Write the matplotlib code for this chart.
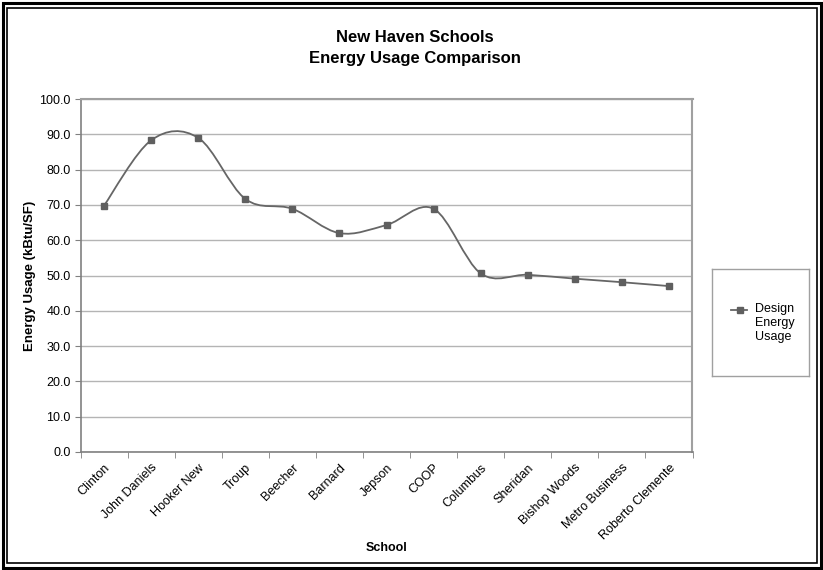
import matplotlib.pyplot as plt
from matplotlib.path import Path
from matplotlib.patches import PathPatch, Rectangle

plt.rcParams['font.family'] = ['Liberation Sans', 'DejaVu Sans']

# School names and design energy usage (kBtu/SF)
schools = ["Clinton", "John Daniels", "Hooker New", "Troup", "Beecher", "Barnard",
           "Jepson", "COOP", "Columbus", "Sheridan", "Bishop Woods",
           "Metro Business", "Roberto Clemente"]
usage = [69.8, 88.3, 89.0, 71.7, 68.9, 62.0, 64.3, 68.9, 50.6, 50.2, 49.1, 48.1, 47.0]
y_ticks = [0, 10, 20, 30, 40, 50, 60, 70, 80, 90, 100]

line_col = '#666666'
grid_col = '#b4b4b4'

fig = plt.figure(figsize=(8.23, 5.70), dpi=100)
ax = fig.add_axes([80.5 / 823, 1 - 452 / 570, 612 / 823, 353 / 570])

x = list(range(len(usage)))

# Excel-style smoothed line: Catmull-Rom segments drawn as cubic Beziers
verts = [(x[0], usage[0])]
codes = [Path.MOVETO]
n = len(usage)
for i in range(n - 1):
    p0 = (x[max(i - 1, 0)], usage[max(i - 1, 0)])
    p1 = (x[i], usage[i])
    p2 = (x[i + 1], usage[i + 1])
    p3 = (x[min(i + 2, n - 1)], usage[min(i + 2, n - 1)])
    c1 = (p1[0] + (p2[0] - p0[0]) / 6, p1[1] + (p2[1] - p0[1]) / 6)
    c2 = (p2[0] - (p3[0] - p1[0]) / 6, p2[1] - (p3[1] - p1[1]) / 6)
    verts += [c1, c2, p2]
    codes += [Path.CURVE4] * 3
ax.add_patch(PathPatch(Path(verts, codes), facecolor='none', edgecolor=line_col,
                       lw=1.3, zorder=3))
ax.plot(x, usage, ls='none', marker='s', ms=4.5, color='#5f5f5f', zorder=4)

ax.set_xlim(-0.5, n - 0.5)
ax.set_ylim(0, 100)
ax.set_yticks(y_ticks)
ax.set_yticklabels([f"{v:.1f}" for v in y_ticks], fontsize=9)
ax.set_xticks(x)
ax.set_xticklabels(schools, rotation=45, ha='right', rotation_mode='anchor', fontsize=9)
ax.tick_params(axis='x', length=0, pad=7)
ax.set_xticks([i - 0.5 for i in range(n + 1)], minor=True)
ax.tick_params(axis='x', which='minor', length=4, color='#808080', direction='out')
ax.tick_params(axis='y', length=4, color='#808080', direction='out', pad=3)
ax.grid(axis='y', color=grid_col, lw=1)
ax.set_axisbelow(True)
for s in ['top', 'right']:
    ax.spines[s].set_color('#a0a0a0')
    ax.spines[s].set_linewidth(1.5)
for s in ['left', 'bottom']:
    ax.spines[s].set_color('#808080')
    ax.spines[s].set_linewidth(1.2)

ax.set_ylabel('Energy Usage (kBtu/SF)', fontsize=9.5, fontweight='bold')
ax.yaxis.set_label_coords((30 - 80.5) / 612, 0.5)
ax.set_xlabel('School', fontsize=9, fontweight='bold')
ax.xaxis.set_label_coords(0.5, -(548 - 452) / 353)
ax.xaxis.label.set_va('center')
ax.yaxis.label.set_va('center')

fig.text(415 / 823, 1 - 38 / 570, 'New Haven Schools', ha='center', va='center',
         fontsize=12, fontweight='bold')
fig.text(415 / 823, 1 - 59 / 570, 'Energy Usage Comparison', ha='center', va='center',
         fontsize=12, fontweight='bold')

# legend box
lg = fig.add_axes([712 / 823, 1 - 376 / 570, 97 / 823, 107 / 570])
lg.set_xlim(0, 97)
lg.set_ylim(107, 0)
lg.set_xticks([])
lg.set_yticks([])
for s in lg.spines.values():
    s.set_color('#a0a0a0')
    s.set_linewidth(1)
lg.plot([19, 35], [41, 41], color=line_col, lw=1.3)
lg.plot([28], [41], marker='s', ms=4, color='#5f5f5f')
lg.text(43, 54, 'Design\nEnergy\nUsage', va='center', ha='left', fontsize=9,
        linespacing=1.2)

# outer double frame
fig.patches.append(Rectangle((2.5 / 823, 2.5 / 570), 818 / 823, 565 / 570, fill=False,
                             ec='black', lw=2.2, transform=fig.transFigure))
fig.patches.append(Rectangle((7.5 / 823, 7.5 / 570), 809 / 823, 555 / 570, fill=False,
                             ec='black', lw=1.2, transform=fig.transFigure))

fig.savefig('out.png', dpi=100)
